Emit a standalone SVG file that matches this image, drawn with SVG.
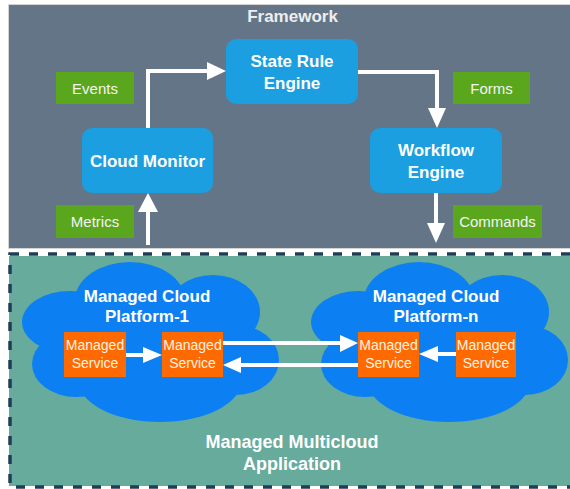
<svg xmlns="http://www.w3.org/2000/svg" width="570" height="489" viewBox="0 0 570 489">
<defs>
<style>
.bg{fill:#ffffff}
.fw{fill:#647587;stroke:#d4d4d4;stroke-width:1}
.app{fill:#66ab9c}
.dash{fill:none;stroke:#1f3d56;stroke-width:3.5;stroke-dasharray:9 10}
.blue{fill:#1b9fe0}
.green{fill:#5aa61c}
.cloud{fill:#0c80f3}
.svc{fill:#ff6a00}
.t{font-family:"Liberation Sans",Arial,sans-serif;fill:#ffffff;text-anchor:middle}
.b{font-weight:bold}
.title{font-size:17px;fill:#eeeeee}
.node{font-size:17px}
.lbl{font-size:15px;fill:#f4f4f4}
.svct{font-size:14px;fill:#fff2e4}
.line{fill:none;stroke:#ffffff;stroke-width:4}
.head{fill:#ffffff}
</style>
<g id="cloudshape">
<ellipse cx="130" cy="300" rx="55" ry="38"/>
<ellipse cx="213" cy="312" rx="47" ry="37"/>
<ellipse cx="236" cy="360" rx="43" ry="35"/>
<ellipse cx="70" cy="322" rx="48" ry="31"/>
<ellipse cx="76" cy="364" rx="44" ry="33"/>
<ellipse cx="160" cy="380" rx="82" ry="42"/>
<ellipse cx="150" cy="340" rx="105" ry="55"/>
</g>
</defs>
<rect class="bg" x="0" y="0" width="570" height="489"/>
<rect id="framework" class="fw" x="8.5" y="4.5" width="570" height="244"/>
<text class="t b title" x="292.5" y="22">Framework</text>
<g id="application">
<rect class="app" x="9" y="256" width="561" height="230"/>
<rect class="dash" x="10" y="254" width="575" height="233"/>
<text class="t b" style="font-size:18px" x="292" y="448">Managed Multicloud</text>
<text class="t b" style="font-size:18px" x="292" y="470">Application</text>
</g>
<g id="cloud-1" class="cloud">
<use href="#cloudshape"/>
<text class="t b node" x="147" y="302">Managed Cloud</text>
<text class="t b node" x="147" y="322">Platform-1</text>
</g>
<g id="cloud-n" class="cloud">
<use href="#cloudshape" transform="translate(289,0)"/>
<text class="t b node" x="436" y="302">Managed Cloud</text>
<text class="t b node" x="436" y="322">Platform-n</text>
</g>
<g id="state-rule-engine">
<rect class="blue" x="226" y="39" width="132" height="65" rx="10"/>
<text class="t b node" x="292" y="67">State Rule</text>
<text class="t b node" x="292" y="89">Engine</text>
</g>
<g id="cloud-monitor">
<rect class="blue" x="82" y="128" width="131" height="65" rx="10"/>
<text class="t b node" x="147.5" y="167">Cloud Monitor</text>
</g>
<g id="workflow-engine">
<rect class="blue" x="370" y="128" width="132" height="65" rx="10"/>
<text class="t b node" x="436" y="156">Workflow</text>
<text class="t b node" x="436" y="178">Engine</text>
</g>
<g id="events">
<rect class="green" x="56" y="72" width="78" height="32"/>
<text class="t lbl" x="95" y="94">Events</text>
</g>
<g id="metrics">
<rect class="green" x="56" y="205" width="78" height="33"/>
<text class="t lbl" x="95" y="227">Metrics</text>
</g>
<g id="forms">
<rect class="green" x="453" y="72" width="77" height="32"/>
<text class="t lbl" x="491.5" y="94">Forms</text>
</g>
<g id="commands">
<rect class="green" x="453" y="205" width="89" height="33"/>
<text class="t lbl" x="497.5" y="227">Commands</text>
</g>
<g id="service-1a">
<rect class="svc" x="64" y="332" width="62" height="45"/>
<text class="t svct" x="95" y="350">Managed</text>
<text class="t svct" x="95" y="368">Service</text>
</g>
<g id="service-1b">
<rect class="svc" x="162" y="332" width="61" height="45"/>
<text class="t svct" x="192.5" y="350">Managed</text>
<text class="t svct" x="192.5" y="368">Service</text>
</g>
<g id="service-na">
<rect class="svc" x="358" y="332" width="61" height="45"/>
<text class="t svct" x="388.5" y="350">Managed</text>
<text class="t svct" x="388.5" y="368">Service</text>
</g>
<g id="service-nb">
<rect class="svc" x="456" y="332" width="60" height="45"/>
<text class="t svct" x="486" y="350">Managed</text>
<text class="t svct" x="486" y="368">Service</text>
</g>
<g id="connectors">
<polyline class="line" points="148,128 148,71 209,71"/>
<polygon class="head" points="226,71 207,62 207,80"/>
<line class="line" x1="148" y1="245" x2="148" y2="210"/>
<polygon class="head" points="148,193 138,212 158,212"/>
<polyline class="line" points="358,72 437,72 437,111"/>
<polygon class="head" points="437,128 428,108 446,108"/>
<line class="line" x1="436" y1="193" x2="436" y2="226"/>
<polygon class="head" points="436,243 427,223 445,223"/>
<line class="line" x1="126" y1="355" x2="145" y2="355"/>
<polygon class="head" points="162,355 143,347 143,363"/>
<line class="line" x1="223" y1="343" x2="342" y2="343"/>
<polygon class="head" points="358,343 340,335 340,352"/>
<line class="line" x1="358" y1="365" x2="239" y2="365"/>
<polygon class="head" points="223,365 241,357 241,373"/>
<line class="line" x1="456" y1="354" x2="436" y2="354"/>
<polygon class="head" points="419,354 438,346 438,362"/>
</g>
</svg>
